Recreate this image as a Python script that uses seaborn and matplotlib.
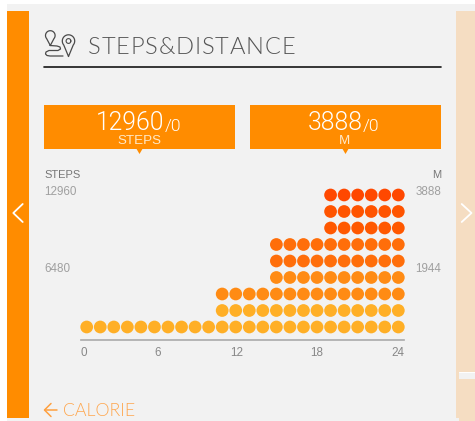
#!/usr/bin/env python3
"""Steps & distance dot chart, drawn from cumulative steps per hour."""

import matplotlib
matplotlib.use("Agg")
import matplotlib.pyplot as plt
import numpy as np
import pandas as pd
import seaborn as sns
from matplotlib.patches import Polygon, Rectangle

HOURS = list(range(24))
CUM_STEPS = [1440] * 10 + [4320] * 4 + [8640] * 4 + [12960] * 6
STEPS_PER_DOT = 1440

ROW_COLORS = {
    1: "#FFAF26", 2: "#FFAF26",
    3: "#FF8B14", 4: "#FF8B14",
    5: "#FF6E0A", 6: "#FF6E0A",
    7: "#FF5800", 8: "#FF5400",
    9: "#FF4800",
}
TICK_LABELS = ["0", "6", "12", "18", "24"]
TICK_COLS = [-0.2, 5.26, 11.1, 17.0, 23]

LEFT_VALUES = ["12960", "6480"]
RIGHT_VALUES = ["3888", "1944"]

ORANGE = "#FF8C00"
PEACH = "#F5DDC2"
PANEL = "#F2F2F2"
ICON = "#4A4A4A"
W, H = 475, 421


def axes_px(fig, x0, y0, x1, y1):
    # pixel box, origin top left
    return fig.add_axes([x0 / W, 1 - y1 / H, (x1 - x0) / W, (y1 - y0) / H])


def teardrop(ax, cx, cy, r, tip_y):
    t = np.linspace(np.radians(-40), np.radians(220), 40)
    xs = cx + r * np.cos(t)
    ys = cy - r * np.sin(t)
    ax.plot(np.r_[cx, xs, cx], np.r_[tip_y, ys, tip_y], color=ICON, lw=0.9)


def spaced_text(ax, x, y, label, gap, **kw):
    # matplotlib has no letter spacing, so lay the letters out one at a time
    rend = ax.figure.canvas.get_renderer()
    for ch in label:
        t = ax.text(x, y, ch, va="baseline", ha="left", **kw)
        x += t.get_window_extent(rend).width + gap


sns.set_theme(style="white")
fig = plt.figure(figsize=(W / 100, H / 100), dpi=100, facecolor="white")

# ── page furniture ──
bg = fig.add_axes([0, 0, 1, 1])
bg.set_xlim(0, W)
bg.set_ylim(H, 0)
bg.axis("off")
bg.add_patch(Rectangle((7, 4), W - 7, H - 4, color=PANEL, lw=0))
bg.add_patch(Rectangle((7, 10.5), 22, 407, color=ORANGE, lw=0))
bg.add_patch(Rectangle((456, 10.5), 19, 407, color=PEACH, lw=0))
bg.add_patch(Rectangle((459, 417), 16, 4, color=PEACH, lw=0))
bg.add_patch(Rectangle((459, 372), 16, 7, color=PANEL, lw=0))
bg.plot([459, 475], [372.3, 372.3], color="white", lw=0.7)
bg.plot([22.7, 13.3, 22.7], [204, 213, 222], color="white", lw=1.3)
bg.plot([461.7, 471.5, 461.7], [204, 213, 222], color="white", lw=1.3)

# header icon
teardrop(bg, 50.3, 35.5, 4.8, 45.5)
teardrop(bg, 68.5, 41, 6.2, 56.5)
t = np.linspace(0, 2 * np.pi, 30)
bg.plot(68.5 + 2.4 * np.cos(t), 41 + 2.4 * np.sin(t), color=ICON, lw=0.8)
bg.plot([50, 57, 60, 60.5, 58, 49, 46, 45.5, 47, 50, 63],
        [45.5, 46, 47, 49, 50.5, 50.5, 52, 54, 55.5, 56, 56],
        color=ICON, lw=0.9)

spaced_text(bg, 88, 53.5, "STEPS&DISTANCE", 0.8, fontsize=17, family="Lato",
            fontweight=300, color="#555555")
bg.plot([44, 441], [66.9, 66.9], color="#151515", lw=1.2)

# ── banners ──
for x0, left, big, small, unit in [(44, 96, "12960", "/0", "STEPS"), (250, 307.5, "3888", "/0", "M")]:
    cx = x0 + 95.5
    bg.add_patch(Rectangle((x0, 105), 191, 43.5, color=ORANGE, lw=0))
    bg.add_patch(Polygon([(cx - 3.5, 148), (cx + 3.5, 148), (cx, 154)], color=ORANGE, lw=0))
    t_big = bg.text(left, 130.5, big, fontsize=17.8, family="Roboto", fontweight=300,
                    color="white", ha="left", va="baseline")
    bg.annotate(small, xy=(1, 0), xycoords=t_big, xytext=(0, 3), textcoords="offset points",
                fontsize=12.5, family="Roboto", fontweight=300, color="white", va="baseline")
    bg.text(cx - 0.5, 144, unit, fontsize=9.6, family="Liberation Sans", color="#FFE9C8",
            ha="center", va="baseline")

# ── axis captions ──
bg.text(44, 178, "STEPS", fontsize=8, family="Liberation Sans", color="#777777", va="baseline")
bg.text(441, 178, "M", fontsize=8, family="Liberation Sans", color="#777777", va="baseline", ha="right")
for y, left, right in zip([195, 272], LEFT_VALUES, RIGHT_VALUES):
    bg.text(44.5, y, left, fontsize=8.4, family="Liberation Sans", color="#A0A0A0", va="baseline")
    bg.text(441, y, right, fontsize=8.4, family="Liberation Sans", color="#A0A0A0", va="baseline", ha="right")

# ── footer link ──
bg.plot([57, 45], [410, 410], color="#FFA040", lw=1.1)
bg.plot([51, 44.5, 51], [403.5, 410, 416.5], color="#FFA040", lw=1.1)
bg.text(63, 416, "CALORIE", fontsize=12.8, family="Lato", fontweight=300, color="#FFA64D",
        va="baseline", ha="left")

# ── dot chart ──
rows = []
for hour, steps in zip(HOURS, CUM_STEPS):
    for row in range(1, steps // STEPS_PER_DOT + 1):
        rows.append({"hour": hour, "steps": row * STEPS_PER_DOT, "row": row})
df = pd.DataFrame(rows)

ax = axes_px(fig, 80.5, 186, 404, 340)
ax.patch.set_alpha(0)
sns.scatterplot(data=df, x="hour", y="steps", hue="row", palette=ROW_COLORS,
                s=84, linewidth=0, legend=False, ax=ax, clip_on=False)
ax.set_xlim(-0.458, 23.42)
ax.set_ylim(0.212 * STEPS_PER_DOT, 9.545 * STEPS_PER_DOT)
ax.set_xlabel("")
ax.set_ylabel("")
ax.set_yticks([])
ax.set_xticks(TICK_COLS)
ax.set_xticklabels(TICK_LABELS, fontsize=8.4, family="Liberation Sans", color="#888888")
ax.tick_params(axis="x", length=0, pad=5)
sns.despine(ax=ax, left=True)
ax.spines["bottom"].set_color("#AAAAAA")
ax.spines["bottom"].set_linewidth(1.2)

fig.savefig("out.png", dpi=100)
